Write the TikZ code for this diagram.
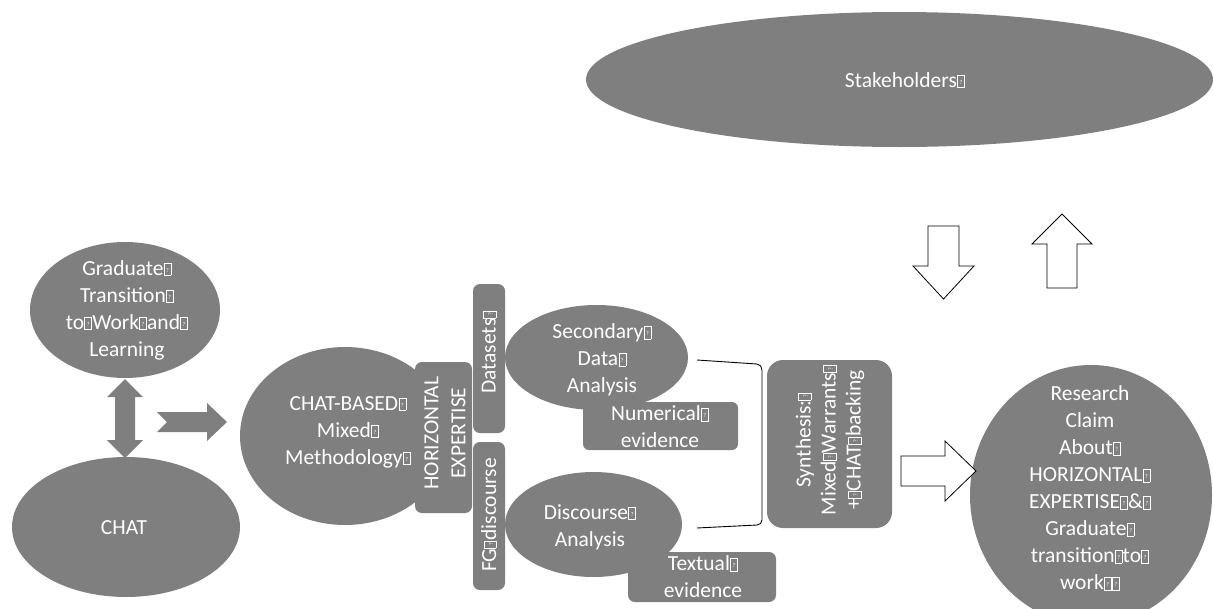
\documentclass[tikz,border=0pt]{standalone}
\usepackage{fontspec}
\setmainfont{Carlito}
\usetikzlibrary{shapes.geometric}
\definecolor{shade}{HTML}{7F7F7F}
% placeholder box for a character the font could not show
\newcommand\nog{{\kern0.3pt\setlength\fboxsep{0pt}\setlength\fboxrule{0.5pt}%
  \fbox{\makebox[6.5pt]{\rule{0pt}{12pt}\raisebox{3pt}{\fontsize{6}{6}\selectfont ?}}}\kern0.3pt}}

\begin{document}
\begin{tikzpicture}[x=1pt,y=-1pt,
  blob/.style={ellipse, fill=shade, draw=none, inner sep=0pt},
  panel/.style={rectangle, rounded corners=7pt, fill=shade, draw=none, inner sep=0pt},
  txt/.style={text=white, align=center, inner sep=0pt,
              font=\fontsize{21.5}{27}\selectfont},
  hollow/.style={draw=black, fill=white, line width=0.8pt, line join=miter},
  solidarrow/.style={fill=shade}]
\useasboundingbox (0,0) rectangle (1213,608);
\begin{scope}
\clip (0,0) rectangle (1213,608);

% ---- shapes ----
\node[blob, minimum width=190, minimum height=136] (grad) at (125,310) {};
\node[blob, minimum width=228, minimum height=140] (chat) at (126,527) {};
\node[blob, minimum width=210, minimum height=178] (method) at (345,436) {};
\node[panel, minimum width=57, minimum height=151] (horiz) at (443.5,437.5) {};
\node[panel, minimum width=32, minimum height=149] (data) at (489,358.5) {};
\node[panel, minimum width=32, minimum height=148] (fg) at (489,516) {};
\node[blob, minimum width=183, minimum height=105] (sec) at (596.5,357.5) {};
\node[panel, rounded corners=6pt, minimum width=155, minimum height=48] (num) at (660.5,426) {};
\node[blob, minimum width=177, minimum height=105] (disc) at (593.5,524.5) {};
\node[panel, minimum width=148, minimum height=50] (textual) at (702,577) {};
\node[panel, rounded corners=16pt, minimum width=125, minimum height=168] (synth) at (829.5,444) {};
\node[blob, minimum width=242, minimum height=260] (claim) at (1091,495) {};
\node[blob, minimum width=627, minimum height=135] (stake) at (899.5,79.5) {};

% ---- block arrows ----
% two-way link between the top two ellipses
\fill[solidarrow] (125,379) -- (143,397) -- (135,397) -- (135,440) -- (143,440)
  -- (125,458) -- (107,440) -- (115,440) -- (115,397) -- (107,397) -- cycle;
% notched arrow into the methodology
\fill[solidarrow] (157,412) -- (207,412) -- (207,403) -- (227,422) -- (207,441)
  -- (207,432) -- (157,432) -- (167,422) -- cycle;
% synthesis to claim
\draw[hollow] (901,456) -- (945,456) -- (945,441) -- (976,471) -- (945,501)
  -- (945,486) -- (901,486) -- cycle;
% to and from the stakeholders
\draw[hollow] (928,226) -- (959,226) -- (959,266) -- (974,266) -- (943.5,299)
  -- (913,266) -- (928,266) -- cycle;
\draw[hollow] (1062,214) -- (1092,244) -- (1077,244) -- (1077,288) -- (1047,288)
  -- (1047,244) -- (1032,244) -- cycle;

% bracket joining the two analyses
\coordinate (brTop) at (697,360);
\coordinate (brBot) at (697,528);
\draw[line width=0.9pt] (brTop) -- (757,364) to[out=0,in=90] (762,370)
  -- (762,520) to[out=-90,in=0] (757,525) -- (brBot);

% ---- texts ----
\node[txt] (gradT) at (127,310) {Graduate\nog\\Transition\nog\\to\nog Work\nog and\nog\\Learning};
\node[txt] (chatT) at (124,528) {CHAT};
\node[txt] (methodT) at (348,432) {CHAT-BASED\nog\\Mixed\nog\\Methodology\nog};
\node[txt, rotate=90] (horizT) at (445,433) {HORIZONTAL\\EXPERTISE};
\node[txt, rotate=90] (dataT) at (489,352) {Datasets\nog};
\node[txt, rotate=90] (fgT) at (489,515) {FG\nog discourse};
\node[txt] (secT) at (602,360) {Secondary\nog\\Data\nog\\Analysis};
\node[txt] (numT) at (660,427) {Numerical\nog\\evidence};
\node[txt] (discT) at (590,527) {Discourse\nog\\Analysis};
\node[txt] (textualT) at (703,577) {Textual\nog\\evidence};
\node[txt, rotate=90, font=\fontsize{21.5}{25}\selectfont] (synthT) at (830,440)
  {Synthesis:\nog\\Mixed\nog Warrants\nog\\+\nog CHAT\nog backing};
\node[txt] (claimT) at (1090,488) {Research\\Claim\\About\nog\\HORIZONTAL\nog\\EXPERTISE\nog\&\nog\\Graduate\nog\\transition\nog to\nog\\work\nog\nog};
\node[txt] (stakeT) at (905,80) {Stakeholders\nog};
\end{scope}
\end{tikzpicture}
\end{document}
